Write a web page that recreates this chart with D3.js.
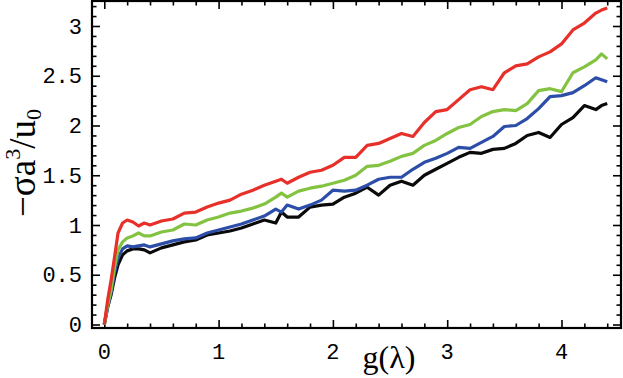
<!DOCTYPE html>
<html><head><meta charset="utf-8">
<script src="https://cdn.jsdelivr.net/npm/d3@7"></script>
<style>body{margin:0;background:#fff}</style>
</head><body>
<svg id="c" width="623" height="378"></svg>
<script>
const gVals = [0,0.03,0.06,0.09,0.12,0.16,0.2,0.25,0.3,0.35,0.4,0.5,0.6,0.7,0.8,0.9,1.0,1.1,1.2,1.3,1.4,1.5,1.55,1.6,1.7,1.8,1.9,2.0,2.1,2.2,2.3,2.4,2.5,2.6,2.7,2.8,2.9,3.0,3.1,3.2,3.3,3.4,3.5,3.6,3.7,3.8,3.9,4.0,4.1,4.2,4.3,4.35,4.4];
const redVals = [0,0.25,0.45,0.68,0.92,1.02,1.05,1.03,0.99,1.02,1.00,1.04,1.06,1.12,1.13,1.18,1.22,1.25,1.31,1.35,1.40,1.44,1.46,1.42,1.48,1.53,1.55,1.60,1.68,1.68,1.80,1.82,1.87,1.92,1.89,2.03,2.14,2.16,2.26,2.36,2.39,2.36,2.53,2.60,2.62,2.69,2.74,2.82,2.96,3.03,3.13,3.16,3.18];
const greenVals = [0,0.2,0.35,0.58,0.75,0.83,0.87,0.89,0.92,0.89,0.89,0.93,0.95,1.01,1.00,1.05,1.08,1.12,1.14,1.17,1.21,1.28,1.32,1.28,1.34,1.37,1.39,1.42,1.45,1.50,1.59,1.60,1.64,1.69,1.72,1.80,1.85,1.92,1.98,2.01,2.09,2.14,2.16,2.15,2.22,2.35,2.37,2.34,2.53,2.59,2.66,2.72,2.67];
const blueVals = [0,0.18,0.32,0.52,0.67,0.76,0.79,0.78,0.79,0.80,0.78,0.81,0.84,0.86,0.87,0.92,0.95,0.98,1.01,1.05,1.09,1.16,1.13,1.20,1.16,1.20,1.25,1.35,1.34,1.35,1.40,1.46,1.48,1.48,1.56,1.63,1.67,1.72,1.78,1.77,1.83,1.89,1.99,2.00,2.07,2.17,2.29,2.30,2.33,2.40,2.48,2.46,2.44];
const blackVals = [0,0.18,0.30,0.47,0.60,0.70,0.74,0.76,0.76,0.75,0.72,0.77,0.80,0.83,0.85,0.90,0.92,0.94,0.97,1.01,1.05,1.02,1.13,1.08,1.08,1.18,1.20,1.21,1.28,1.32,1.38,1.30,1.40,1.44,1.40,1.50,1.56,1.62,1.68,1.73,1.72,1.76,1.77,1.82,1.90,1.93,1.88,2.01,2.08,2.20,2.16,2.20,2.22];
const seriesNames = ["red","green","blue","black"];
const seriesColors = ["#e8302a","#84c341","#2d4ea8","#0a0a0a"];
const xTicks = [0,1,2,3,4];
const yTicks = [0,0.5,1,1.5,2,2.5,3];
const yTickLabels = ["0","0.5","1","1.5","2","2.5","3"];

const svg = d3.select("#c");
const L = 92, R = 621, T = 1, B = 328;
const x = d3.scaleLinear().domain([0,4]).range([104.3,561.5]);
const y = d3.scaleLinear().domain([0,3]).range([324.5,26]);

const minorX = d3.range(0, 4.51, 0.2).filter(v => Math.abs(v - Math.round(v)) > 1e-6);
const minorY = d3.range(0, 3.21, 0.1).filter(v => Math.abs(v*2 - Math.round(v*2)) > 1e-6);

function tickGroup(axisFn, scale, vals, size, tx, ty) {
  const g = svg.append("g").attr("transform", `translate(${tx},${ty})`)
    .call(axisFn(scale).tickValues(vals).tickSize(size).tickFormat(""));
  g.select(".domain").remove();
  g.selectAll(".tick line").attr("stroke","#000").attr("stroke-width",1.6);
  return g;
}
tickGroup(d3.axisBottom, x, xTicks, -8, 0, B);
tickGroup(d3.axisBottom, x, minorX, -4.5, 0, B);
tickGroup(d3.axisTop, x, xTicks, -8, 0, T);
tickGroup(d3.axisTop, x, minorX, -4.5, 0, T);
tickGroup(d3.axisLeft, y, yTicks, -8, L, 0);
tickGroup(d3.axisLeft, y, minorY, -4.5, L, 0);
tickGroup(d3.axisRight, y, yTicks, -8, R, 0);
tickGroup(d3.axisRight, y, minorY, -4.5, R, 0);

svg.append("g").selectAll("text").data(xTicks).join("text")
  .attr("x", d => x(d)).attr("y", 359)
  .attr("text-anchor","middle")
  .style("font-family","'Liberation Mono', monospace").style("font-size","22px")
  .text(d => d);
svg.append("g").selectAll("text").data(yTicks).join("text")
  .attr("x", 82).attr("y", d => y(d)).attr("dy","0.35em")
  .attr("text-anchor","end")
  .style("font-family","'Liberation Mono', monospace").style("font-size","22px")
  .text((d,i) => yTickLabels[i]);

svg.append("clipPath").attr("id","clipR").append("rect")
  .attr("x",L).attr("y",T).attr("width",R-L).attr("height",B-T);
const allVals = [redVals, greenVals, blueVals, blackVals];
const line = d3.line().x(d => x(d[0])).y(d => y(d[1]));
[3,2,1,0].forEach((i) => {
  const vals = allVals[i];
  svg.append("path")
    .datum(gVals.map((g,k) => [g, vals[k]]))
    .attr("d", line)
    .attr("fill","none").attr("stroke", seriesColors[i])
    .attr("stroke-width", 3.2).attr("stroke-linejoin","round")
    .attr("clip-path","url(#clipR)");
});

svg.append("rect").attr("x",L).attr("y",T).attr("width",R-L).attr("height",B-T)
  .attr("fill","none").attr("stroke","#000").attr("stroke-width",2.2);

svg.append("text").attr("x",389).attr("y",368).attr("text-anchor","middle")
  .style("font-family","'Liberation Serif', serif").style("font-size","32px")
  .text("g(λ)");
const yt = svg.append("text").attr("transform","translate(35,163) rotate(-90)")
  .attr("text-anchor","middle")
  .style("font-family","'Liberation Serif', serif").style("font-size","37px");
yt.append("tspan").text("−σa");
yt.append("tspan").attr("font-size","22px").attr("dy","-15").text("3");
yt.append("tspan").attr("dy","15").text("/u");
yt.append("tspan").attr("font-size","22px").attr("dy","6").text("0");
</script>
</body></html>
